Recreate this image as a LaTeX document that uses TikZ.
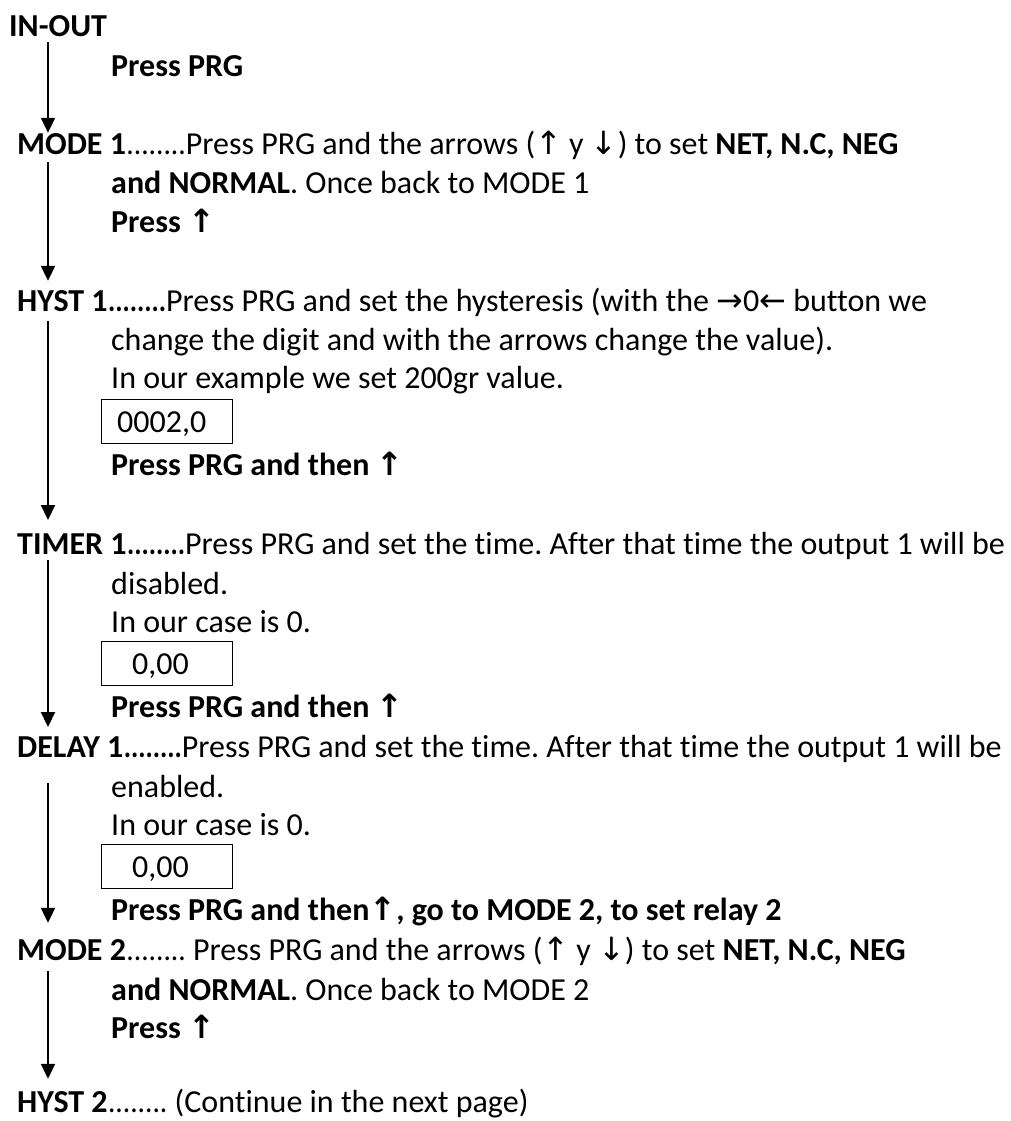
\documentclass[tikz,border=0pt]{standalone}
\usepackage{fontspec}
\setmainfont{Carlito}[Ligatures={TeX,NoCommon}]
\newfontfamily\arrowfont{DejaVu Sans}
\usetikzlibrary{arrows.meta}
\frenchspacing

\newcommand{\arUp}{{\arrowfont ↑}}
\newcommand{\arDown}{{\arrowfont ↓}}
\newcommand{\arZero}{{\arrowfont →}0{\arrowfont ←}}
\newcommand{\stepdots}{\scalebox{0.92}[1]{........}}
\newcommand{\stepdotsbf}{\scalebox{0.85}[1]{\textbf{........}}}

\begin{document}
\begin{tikzpicture}[x=1pt,y=-1pt]
\tikzset{
  txt/.style={anchor=base west,inner sep=0pt,font=\fontsize{32}{38}\selectfont},
  steplabel/.style={txt,font=\fontsize{32}{38}\selectfont\bfseries},
  valbox/.style={draw,line width=1.3pt,anchor=north west,inner xsep=15.5pt,inner ysep=0pt,
    text width=100pt,align=left,minimum height=44pt,text height=22pt,text depth=0pt,
    font=\fontsize{32}{38}\selectfont},
  flow/.style={-{Triangle[length=15pt,width=14pt]},line width=2pt}
}
\useasboundingbox (0,0) rectangle (1011,1121);
\coordinate (spine) at (48,0);
% IN-OUT
\node[steplabel] (st_inout) at (9,37) {IN-OUT};
\node[txt] (ln_inout_a) at (111,77) {\textbf{Press PRG}};
% MODE 1
\node[steplabel] (st_mode_1) at (17,154) {MODE 1};
\node[txt] (ds_mode_1) at (st_mode_1.base east) {\stepdots Press PRG and the arrows (\arUp{} y \arDown) to set \textbf{NET, N.C, NEG}};
\node[txt] (ln_mode_1_a) at (111,193) {\textbf{and NORMAL}. Once back to MODE 1};
\node[txt] (ln_mode_1_b) at (111,232) {\textbf{Press \arUp}};
% HYST 1
\node[steplabel] (st_hyst_1) at (17,311) {HYST 1};
\node[txt] (ds_hyst_1) at (st_hyst_1.base east) {\stepdotsbf Press PRG and set the hysteresis (with the \arZero{} button we};
\node[txt] (ln_hyst_1_a) at (111,350) {change the digit and with the arrows change the value).};
\node[txt] (ln_hyst_1_b) at (111,388) {In our example we set 200gr value.};
\node[valbox] (bx_hyst_1) at (101,399) {0002,0};
\node[txt] (ln_hyst_1_c) at (111,475) {\textbf{Press PRG and then \arUp}};
% TIMER 1
\node[steplabel] (st_timer_1) at (17,554) {TIMER 1};
\node[txt] (ds_timer_1) at (st_timer_1.base east) {\stepdotsbf Press PRG and set the time. After that time the output 1 will be};
\node[txt] (ln_timer_1_a) at (111,594) {disabled.};
\node[txt] (ln_timer_1_b) at (111,632) {In our case is 0.};
\node[valbox] (bx_timer_1) at (101,641) {\hspace*{15pt}0,00};
\node[txt] (ln_timer_1_c) at (111,717) {\textbf{Press PRG and then \arUp}};
% DELAY 1
\node[steplabel] (st_delay_1) at (17,757) {DELAY 1};
\node[txt] (ds_delay_1) at (st_delay_1.base east) {\stepdotsbf Press PRG and set the time. After that time the output 1 will be};
\node[txt] (ln_delay_1_a) at (111,797) {enabled.};
\node[txt] (ln_delay_1_b) at (111,835) {In our case is 0.};
\node[valbox] (bx_delay_1) at (101,844) {\hspace*{15pt}0,00};
\node[txt] (ln_delay_1_c) at (111,920) {\textbf{Press PRG and then\arUp, go to MODE 2, to set relay 2}};
% MODE 2
\node[steplabel] (st_mode_2) at (17,960) {MODE 2};
\node[txt] (ds_mode_2) at (st_mode_2.base east) {\stepdots{} Press PRG and the arrows (\arUp{} y \arDown) to set \textbf{NET, N.C, NEG}};
\node[txt] (ln_mode_2_a) at (111,1000) {\textbf{and NORMAL}. Once back to MODE 2};
\node[txt] (ln_mode_2_b) at (111,1038) {\textbf{Press \arUp}};
% HYST 2
\node[steplabel] (st_hyst_2) at (17,1112) {HYST 2};
\node[txt] (ds_hyst_2) at (st_hyst_2.base east) {\stepdots{} (Continue in the next page)};
% flow arrows
\draw[flow,shorten <=5pt] (st_inout.south -| spine) -- (st_mode_1.north -| spine);
\draw[flow,shorten <=8pt,shorten >=9pt] (st_mode_1.south -| spine) -- (st_hyst_1.north -| spine);
\draw[flow,shorten <=10pt,shorten >=13pt] (st_hyst_1.south -| spine) -- (st_timer_1.north -| spine);
\draw[flow,shorten <=6pt,shorten >=9pt] (st_timer_1.south -| spine) -- (st_delay_1.north -| spine);
\draw[flow,shorten <=26pt,shorten >=16pt] (st_delay_1.south -| spine) -- (st_mode_2.north -| spine);
\draw[flow,shorten <=11pt,shorten >=12pt] (st_mode_2.south -| spine) -- (st_hyst_2.north -| spine);
\end{tikzpicture}
\end{document}
